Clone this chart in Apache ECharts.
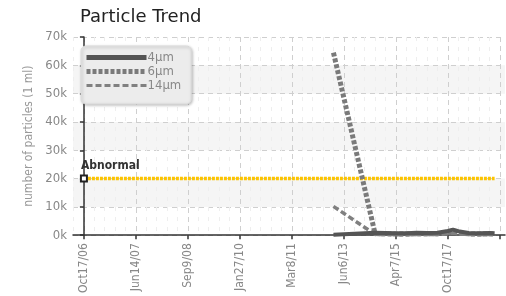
<!DOCTYPE html>
<html><head><meta charset="utf-8">
<script src="https://cdn.jsdelivr.net/npm/echarts@6/dist/echarts.min.js"></script>
<style>html,body{margin:0;padding:0;background:#fff}#c{width:506px;height:296px}</style>
</head><body><div id="c"></div>
<script>
// Tick labels on the x axis (one every 10 sample slots)
const tickLabels = ['Oct17/06','Jun14/07','Sep9/08','Jan27/10','Mar8/11','Jun6/13','Apr7/15','Oct17/17'];
// Sample slot positions (in category units) and values
const sampleSlots = [48, 56, 58, 60, 62, 64, 66, 68, 70, 71, 72, 74, 76, 78, 79];
const p4  = [200, 900, 800, 700, 700, 900, 800, 900, 1500, 2000, 1400, 800, 700, 800, 700];
const p6  = [64500, 600, 500, 400, 400, 500, 500, 500, 900, 1200, 800, 500, 400, 500, 400];
const p14 = [10200, 300, 300, 200, 200, 300, 300, 300, 500, 700, 400, 300, 200, 300, 200];
const abnormalSlots = [0, 79];
const abnormalLevel = 20000;

const pairs = (xs, ys) => xs.map((x, i) => [x, ys[i]]);
const FONT = "'Liberation Sans Narrow','DejaVu Sans Condensed',sans-serif";

const chart = echarts.init(document.getElementById('c'), null, {renderer: 'canvas'});
chart.setOption({
  animation: false,
  title: {
    text: 'Particle Trend', left: 75, top: 3,
    textStyle: {fontFamily: 'DejaVu Sans', fontSize: 18, fontWeight: 'normal', color: '#222'}
  },
  legend: {
    data: [
      {name: '4\u03bcm', lineStyle: {width: 5}},
      {name: '6\u03bcm', lineStyle: {width: 5}},
      {name: '14\u03bcm', lineStyle: {width: 3}}
    ],
    orient: 'vertical', left: 81, top: 46,
    itemWidth: 60, itemHeight: 10, itemGap: 1,
    itemStyle: {opacity: 0},
    padding: [5, 10, 12, 3],
    backgroundColor: '#ececec', borderColor: '#dcdcdc', borderWidth: 1, borderRadius: 5,
    shadowBlur: 3, shadowColor: 'rgba(0,0,0,0.25)', shadowOffsetX: 1, shadowOffsetY: 1,
    textStyle: {fontFamily: FONT, fontSize: 13, lineHeight: 12, color: '#888', padding: [0, 0, 0, -4]}
  },
  grid: {left: 73, right: 1, top: 37, bottom: 60},
  xAxis: {
    type: 'value', min: -2.1, max: 81, splitNumber: 8,
    axisLine: {lineStyle: {color: '#333', width: 1.5}},
    axisTick: {length: 4, lineStyle: {color: '#333', width: 1.5}},
    axisLabel: {
      rotate: 90, fontFamily: FONT, fontSize: 12, color: '#888', margin: 8,
      showMinLabel: false, showMaxLabel: false,
      formatter: v => (v >= 0 && v % 10 === 0 && v / 10 < tickLabels.length) ? tickLabels[v / 10] : ''
    },
    splitLine: {show: true, showMinLine: false, showMaxLine: false, lineStyle: {color: '#cfcfcf', type: [5, 4]}},
    minorTick: {show: false, splitNumber: 5},
    minorSplitLine: {show: true, lineStyle: {color: '#eeeeee', type: [4, 6]}}
  },
  yAxis: {
    type: 'value', min: 0, max: 70000, interval: 10000,
    name: 'number of particles (1 ml)', nameLocation: 'middle', nameGap: 34,
    nameTextStyle: {fontFamily: FONT, fontSize: 12, color: '#999'},
    axisLine: {show: true, lineStyle: {color: '#333', width: 1.5}},
    axisTick: {show: true, length: 4, lineStyle: {color: '#333', width: 1.5}},
    axisLabel: {fontFamily: FONT, fontSize: 13, color: '#888', margin: 6, formatter: v => (v / 1000) + 'k'},
    splitLine: {show: true, lineStyle: {color: '#cfcfcf', type: [5, 4]}},
    splitArea: {show: true, areaStyle: {color: ['rgba(255,255,255,0)', '#f5f5f5']}}
  },
  series: [
    {
      name: 'Abnormal', type: 'line',
      data: pairs(abnormalSlots, abnormalSlots.map(() => abnormalLevel)).map((d, i) => i === 0 ? {
        value: d, symbol: 'emptyRect',
        label: {show: true, formatter: 'Abnormal', position: [1, -15], fontFamily: FONT, fontSize: 12, fontWeight: 'bold', color: '#333'}
      } : {value: d, symbol: 'none'}),
      showSymbol: true, symbol: 'emptyRect', symbolSize: 6,
      itemStyle: {color: '#222', borderColor: '#222', borderWidth: 1.5},
      lineStyle: {color: '#fcc400', width: 3.5, type: [3, 1]}, z: 3
    },
    {
      name: '4\u03bcm', type: 'line', data: pairs(sampleSlots, p4), showSymbol: false, symbol: 'none',
      lineStyle: {color: '#555', width: 4}, itemStyle: {color: '#555'}, z: 5
    },
    {
      name: '6\u03bcm', type: 'line', data: pairs(sampleSlots, p6), showSymbol: false, symbol: 'none',
      lineStyle: {color: '#7a7a7a', width: 5, type: [4, 2]}, itemStyle: {color: '#666'}, z: 4
    },
    {
      name: '14\u03bcm', type: 'line', data: pairs(sampleSlots, p14), showSymbol: false, symbol: 'none',
      lineStyle: {color: '#808080', width: 3.5, type: [6, 3]}, itemStyle: {color: '#777'}, z: 4
    }
  ]
});
</script></body></html>
